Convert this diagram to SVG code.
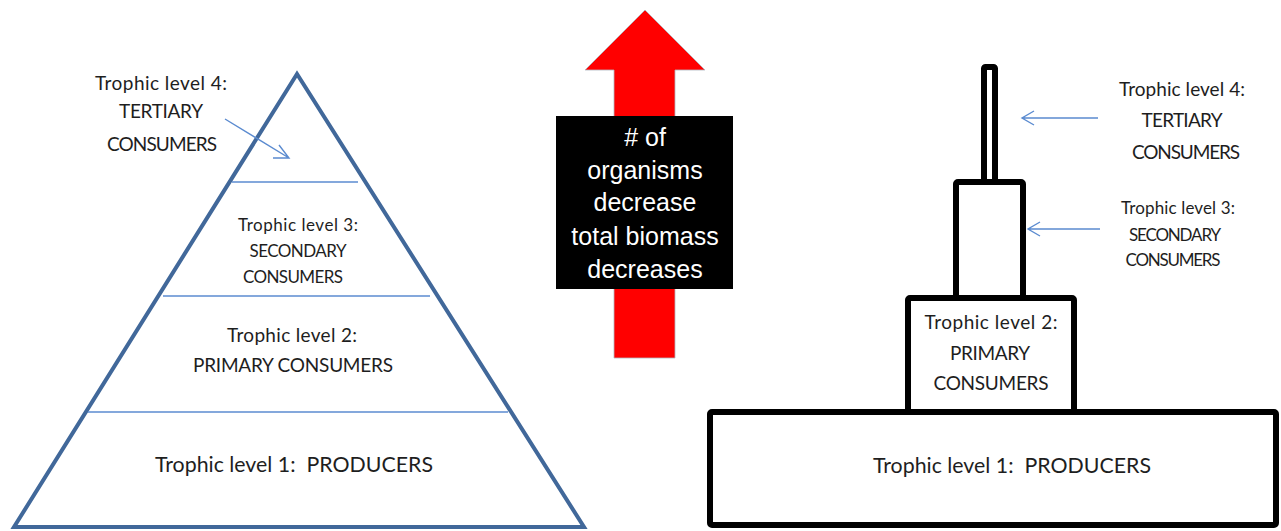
<svg xmlns="http://www.w3.org/2000/svg" width="1281" height="531" viewBox="0 0 1281 531">
<defs>
<style>
.t{font-family:Lato,"Liberation Sans",sans-serif;fill:#1e1e1e;text-anchor:middle;white-space:pre}
.w{font-family:"Liberation Sans",Arial,sans-serif;fill:#ffffff;text-anchor:middle;font-size:25px}
.pyr{fill:none;stroke:#41689a;stroke-width:4;stroke-linejoin:miter}
.div{stroke:#5b8bd0;stroke-width:1.6}
.blk{fill:#fff;stroke:#000;stroke-width:6;stroke-linejoin:round}
.arr{stroke:#5b8bd0;stroke-width:1.4;fill:none}
</style>
</defs>
<rect width="1281" height="531" fill="#fff"/>
<g id="pyramid">
<polygon class="pyr" points="297,74 14,527 584,527"/>
<line class="div" x1="232" y1="182" x2="358" y2="182"/>
<line class="div" x1="163" y1="296" x2="430" y2="296"/>
<line class="div" x1="88" y1="412" x2="508" y2="412"/>
</g>
<g id="p-level4">
<text class="t" font-size="19" x="161" y="90" textLength="132">Trophic level 4:</text>
<text class="t" font-size="19" x="161" y="118" textLength="84">TERTIARY</text>
<text class="t" font-size="19" x="162" y="151" textLength="110">CONSUMERS</text>
</g>
<g id="p-level3">
<text class="t" font-size="17" x="298" y="231" textLength="120">Trophic level 3:</text>
<text class="t" font-size="17" x="298" y="257" textLength="97">SECONDARY</text>
<text class="t" font-size="17" x="293" y="283" textLength="100">CONSUMERS</text>
</g>
<g id="p-level2">
<text class="t" font-size="19" x="292" y="342" textLength="130">Trophic level 2:</text>
<text class="t" font-size="19" x="293" y="372" textLength="200">PRIMARY CONSUMERS</text>
</g>
<g id="p-level1">
<text class="t" font-size="21" x="294" y="472" textLength="278" lengthAdjust="spacingAndGlyphs">Trophic level 1:  PRODUCERS</text>
</g>
<g id="trend">
<polygon fill="#ff0000" stroke="#b0b8c0" stroke-width="0.8" points="645,10 705,70 675,70 675,358 614,358 614,70 585,70"/>
<rect x="556" y="116" width="177" height="173" fill="#000"/>
<text class="w" x="645" y="146"># of</text>
<text class="w" x="645" y="179">organisms</text>
<text class="w" x="645" y="211">decrease</text>
<text class="w" x="645" y="245">total biomass</text>
<text class="w" x="645" y="278">decreases</text>
</g>
<g id="b-level1">
<rect class="blk" x="710" y="412" width="566" height="113" rx="2"/>
<text class="t" font-size="21" x="1012" y="473" textLength="278" lengthAdjust="spacingAndGlyphs">Trophic level 1:  PRODUCERS</text>
</g>
<g id="b-level2">
<rect class="blk" x="908" y="298" width="166" height="114" rx="2"/>
<text class="t" font-size="19" x="991" y="329" textLength="133">Trophic level 2:</text>
<text class="t" font-size="19" x="990" y="360" textLength="80">PRIMARY</text>
<text class="t" font-size="19" x="991" y="390" textLength="115">CONSUMERS</text>
</g>
<g id="b-level3">
<rect class="blk" x="956" y="182" width="67" height="116" rx="2"/>
</g>
<g id="b-level4">
<rect class="blk" x="984" y="67" width="11" height="115" rx="1.5"/>
</g>
<g id="b-labels">
<text class="t" font-size="19" x="1182" y="96" textLength="126">Trophic level 4:</text>
<text class="t" font-size="19" x="1182" y="127" textLength="81">TERTIARY</text>
<text class="t" font-size="19" x="1186" y="159" textLength="108">CONSUMERS</text>
<text class="t" font-size="17" x="1178" y="214" textLength="114">Trophic level 3:</text>
<text class="t" font-size="17" x="1175" y="241" textLength="92">SECONDARY</text>
<text class="t" font-size="17" x="1173" y="266" textLength="95">CONSUMERS</text>
</g>
<g id="connectors">
<path class="arr" d="M225,119 L289,158 M279,145 L289,158 L273,158"/>
<path class="arr" d="M1098,118 L1022,118 M1034,111 L1022,118 L1034,125"/>
<path class="arr" d="M1100,229 L1028,229 M1040,222 L1028,229 L1040,236"/>
</g>
</svg>
